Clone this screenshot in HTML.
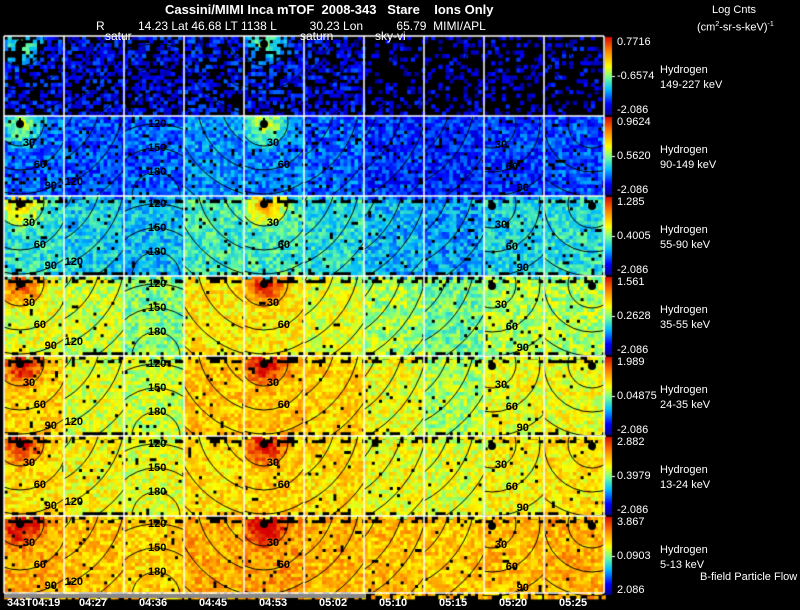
<!DOCTYPE html>
<html><head><meta charset="utf-8">
<style>
body{margin:0;background:#000;width:800px;height:609px;overflow:hidden;position:relative;font-family:"Liberation Sans",sans-serif;color:#fff}
.t{position:absolute;white-space:pre;font-size:12px;line-height:13px}
.b{font-weight:bold}
.cl{position:absolute;font-size:11px;color:#000;font-weight:bold;white-space:pre;line-height:11px}
canvas{position:absolute;left:0;top:0}
</style></head><body>
<canvas id="cv" width="800" height="609"></canvas>
<div class="t b" style="left:165px;top:3px;font-size:13px">Cassini/MIMI Inca mTOF  2008-343   Stare    Ions Only</div>
<div class="t" style="left:96px;top:20px">R          14.23 Lat 46.68 LT 1138 L          30.23 Lon          65.79  MIMI/APL</div>
<div class="t" style="left:105px;top:30px">satur</div>
<div class="t" style="left:300px;top:30px">saturn</div>
<div class="t" style="left:375px;top:30px">sky-vi</div>
<div class="t" style="left:712px;top:4px;font-size:11px">Log Cnts</div>
<div class="t" style="left:697px;top:18px;font-size:11px">(cm<sup style="font-size:7px">2</sup>-sr-s-keV)<sup style="font-size:7px">-1</sup></div>
<div class="t" style="left:700px;top:571px;font-size:11px">B-field Particle Flow</div>
<div id="ov"></div>
<script>
const times=["343T04:19","04:27","04:36","04:45","04:53","05:02","05:10","05:15","05:20","05:25"];
const energies=["149-227 keV","90-149 keV","55-90 keV","35-55 keV","24-35 keV","13-24 keV","5-13 keV"];
const cbMax=["0.7716","0.9624","1.285","1.561","1.989","2.882","3.867"];
const cbMid=["-0.6574","0.5620","0.4005","0.2628","0.04875","0.3979","0.0903"];
const cbMin=["-2.086","-2.086","-2.086","-2.086","-2.086","-2.086","2.086"];
const levels=[
[.16,.14,.14,.16,.16,.14,.10,.10,.10,.11],
[.24,.22,.24,.29,.27,.24,.19,.18,.20,.22],
[.40,.36,.34,.43,.43,.40,.33,.30,.37,.40],
[.60,.57,.50,.65,.65,.60,.53,.48,.54,.54],
[.69,.59,.57,.71,.71,.69,.61,.54,.61,.61],
[.66,.62,.60,.67,.69,.67,.62,.60,.63,.66],
[.75,.71,.69,.75,.77,.73,.72,.70,.72,.74]];
const missing=[.5,.16,.1,.06,.07,.07,.08];
const hotCols=[0,4];
const sunPos=[[16,6],null,null,null,[20,6],null,null,null,[8,8],[48,8]];
const contourCtr=[[16,6,0],[-35,-20,0],[32,80,1],[85,-15,0],[20,6,0],[-40,-20,0],[-55,-25,0],[-45,-20,0],[8,8,0],[48,8,0]];
const X0=4,PW=60,Y0=36,PH=80,CS=3.6,NX=17,NY=23;
const cv=document.getElementById('cv'),c=cv.getContext('2d');
const stops=[[0,0,0,130],[.15,0,0,255],[.33,0,190,255],[.48,110,255,150],[.62,255,255,0],[.8,255,140,0],[1,215,0,0]];
function cmap(v){v=Math.max(0,Math.min(1,v));for(let i=1;i<stops.length;i++){if(v<=stops[i][0]){const a=stops[i-1],b=stops[i],t=(v-a[0])/(b[0]-a[0]);return`rgb(${a[1]+(b[1]-a[1])*t|0},${a[2]+(b[2]-a[2])*t|0},${a[3]+(b[3]-a[3])*t|0})`}}}
function tex(i,j,k){let h=(i*374761393+j*668265263+k*2147483647)>>>0;h=(h^(h>>>13))*1274126177>>>0;return((h^(h>>>16))>>>0)/4294967296}
const ov=document.getElementById('ov');
for(let r=0;r<7;r++){
 const py=Y0+r*PH;
 for(let col=0;col<10;col++){
  const px=X0+col*PW;
  const miss=missing[r]*(r===0&&col>5?1.5:1);
  for(let iy=0;iy<NY;iy++)for(let ix=0;ix<NX;ix++){
   const n=tex(ix,iy,r*10+col);
   const edge=(iy<2||iy>NY-3)&&r>1;
   if(n<miss*(r===0?1:.5)||(edge&&tex(iy,ix,col+99)<.45)){continue}
   let v=levels[r][col]+(tex(ix+50,iy,r*10+col)-.5)*.2;
   const sp=sunPos[col];
   if(sp&&hotCols.includes(col)){const d=Math.hypot(ix*CS-sp[0],iy*CS-sp[1]);v+=Math.max(0,.35-d*.012)}
   c.fillStyle=cmap(v);c.fillRect(px+ix*CS,py+iy*CS,CS+.6,CS+.6);
  }
  c.save();c.beginPath();c.rect(px,py,PW,PH);c.clip();
  c.strokeStyle='#000';c.lineWidth=1;
  const cc=contourCtr[col];
  for(let k=1;k<=7;k++){const rad=k*24;c.beginPath();c.arc(px+cc[0],py+cc[1],rad,0,Math.PI*2);c.stroke();
   const val=cc[2]?180-30*(k-1):30*k;
   const ang=Math.PI*(cc[2]?1.5:.35);let lx=cc[0]+rad*Math.cos(ang),ly=cc[1]+rad*Math.sin(ang);
   if(r>0&&lx>4&&lx<52&&ly>6&&ly<74){const s=document.createElement('div');s.className='cl';
    
    
    s.style.left=(px+lx-8)+'px';s.style.top=(py+ly-5)+'px';s.textContent=val;ov.appendChild(s)}}
  c.restore();
  const sp=sunPos[col];
  if(sp&&(hotCols.includes(col)||r>1)){c.fillStyle='#000';c.beginPath();c.arc(px+sp[0],py+sp[1]+2,4,0,7);c.fill();c.fillRect(px+sp[0]-1,py+sp[1]-4,2,4)}
 }
 const g=c.createLinearGradient(0,py+PH,0,py);
 stops.forEach(s=>g.addColorStop(s[0],cmap(s[0])));
 c.fillStyle=g;c.fillRect(605,py+1,7,PH-2);
 c.fillStyle='#fff';c.fillRect(612,py+PH/2,3,1);
 const mk=(txt,top,left,nm)=>{const d=document.createElement('div');d.className='t';d.style.fontSize='11px';d.style.left=left+'px';d.style.top=top+'px';d.textContent=txt;
  
  ov.appendChild(d)};
 mk(cbMax[r],py,617,'colorbar-max');mk(cbMid[r],py+PH/2-6,617,'colorbar-mid');mk(cbMin[r],py+PH-12,617,'colorbar-min');
 mk('Hydrogen',py+PH/2-12,660,'species-label');mk(energies[r],py+PH/2+3,660,'energy-label');
}
c.strokeStyle='#fff';c.lineWidth=1.5;
for(let k=0;k<=10;k++){c.beginPath();c.moveTo(X0+k*PW,Y0);c.lineTo(X0+k*PW,Y0+7*PH-3);c.stroke()}
for(let k=0;k<=7;k++){c.beginPath();c.moveTo(X0,Y0+k*PH-(k==7?3:0));c.lineTo(X0+10*PW,Y0+k*PH-(k==7?3:0));c.stroke()}
c.fillStyle='#888';c.fillRect(X0,594,361,4);
times.forEach((t,i)=>{const d=document.createElement('div');d.className='t b';d.style.fontSize='11px';
 d.style.left=(i==0?7:X0+i*PW+15)+'px';d.style.top='597px';d.textContent=t;
 
 ov.appendChild(d)});
</script>
</body></html>
